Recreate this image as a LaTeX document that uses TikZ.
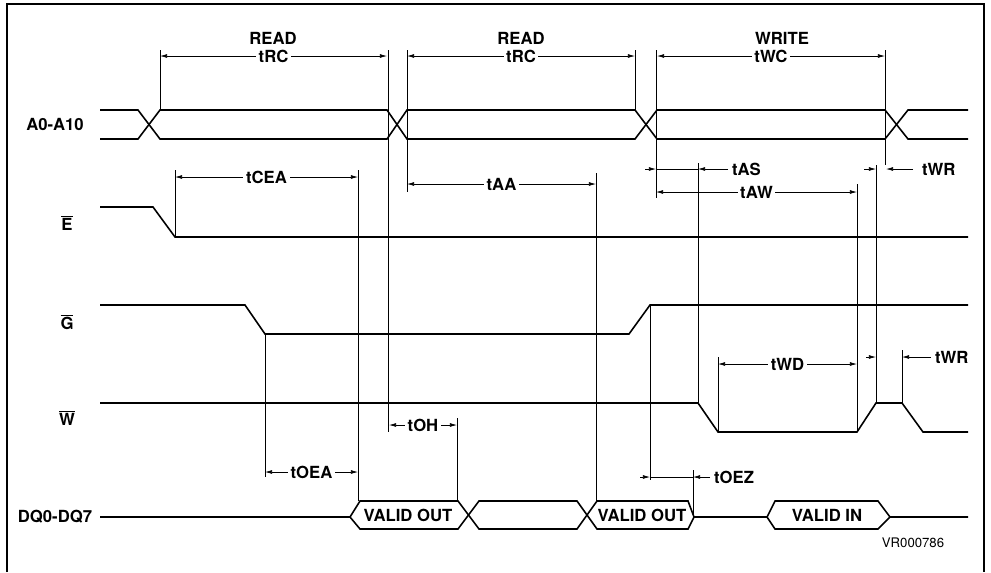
\documentclass[tikz,border=0pt]{standalone}
\usepackage{fontspec}
\setmainfont{TeX Gyre Heros}
\usepackage{tikz}
\usetikzlibrary{arrows.meta, positioning}

\tikzset{
    sig/.style={line width=0.9pt, line join=miter},
    ext/.style={line width=0.35pt},
    dim/.style={line width=0.4pt, {Latex[length=4pt,width=2.2pt]}-{Latex[length=4pt,width=2.2pt]}},
    dimtip/.style={line width=0.4pt, -{Latex[length=4pt,width=2.2pt]}},
    lbl/.style={font=\fontsize{9.5}{11}\selectfont\bfseries, inner sep=1pt},
    tlbl/.style={lbl, fill=white, inner sep=1.5pt}
}

\begin{document}
\begin{tikzpicture}[x=0.02cm, y=-0.02cm]
    \useasboundingbox (0,0) rectangle (991,572);

    % Frame (open at the bottom)
    \draw[line width=1pt] (7,572) -- (7,4) -- (984,4) -- (984,572);

    % Signal names
    \node[lbl] (nA) at (55,124) {A0-A10};
    \node[lbl] (nE) at (67,223) {$\overline{\mbox{E}}$};
    \node[lbl] (nG) at (67,322) {$\overline{\mbox{G}}$};
    \node[lbl] (nW) at (67,418) {$\overline{\mbox{W}}$};
    \node[lbl] (nDQ) at (55,517) {DQ0-DQ7};

    % Address bus
    \draw[sig] (100,110) -- (138,110) -- (160,139) -- (387,139) -- (407,110) -- (635,110)
        -- (657,139) -- (885,139) -- (908,110) -- (968,110);
    \draw[sig] (100,139) -- (138,139) -- (160,110) -- (387,110) -- (407,139) -- (635,139)
        -- (657,110) -- (885,110) -- (908,139) -- (968,139);

    % E, G, W
    \draw[sig] (100,207) -- (153,207) -- (175,237) -- (968,237);
    \draw[sig] (100,305) -- (245,305) -- (265,334) -- (629,334) -- (650,305) -- (968,305);
    \draw[sig] (100,403) -- (698,403) -- (718,432) -- (857,432) -- (876,403) -- (902,403)
        -- (923,432) -- (968,432);

    % Data bus
    \draw[sig] (100,517) -- (350,517) -- (360,501) -- (458,501) -- (479,529) -- (577,529)
        -- (597,501) -- (688,501) -- (694,517) -- (767,517) -- (775,501) -- (878,501)
        -- (890,517) -- (968,517);
    \draw[sig] (350,517) -- (360,529) -- (458,529) -- (479,501) -- (577,501) -- (597,529)
        -- (688,529) -- (694,517);
    \draw[sig] (767,517) -- (775,529) -- (878,529) -- (890,517);
    \node[lbl] (vo1) at (408,515) {VALID OUT};
    \node[lbl] (vo2) at (642,515) {VALID OUT};
    \node[lbl] (vin) at (827,515) {VALID IN};

    % Extension lines
    \foreach \x/\ya/\yb in {160/50/110, 388/50/432, 407/50/192, 635/50/110, 656/50/198,
            885/50/165, 175/170/237, 358/170/501, 596/173/501, 698/163/403, 876/165/403,
            857/184/432, 265/334/477, 457/418/501, 650/305/480, 693/470/517, 718/357/432,
            902/350/403} {
        \draw[ext] (\x,\ya) -- (\x,\yb);
    }

    % Cycle labels
    \node[lbl] (rd1) at (273,38) {READ};
    \node[lbl] (rd2) at (521,38) {READ};
    \node[lbl] (wr) at (782,38) {WRITE};

    % Timing dimensions
    \draw[dim] (160,56) -- node[tlbl] (trc1) {tRC} (387,56);
    \draw[dim] (407,56) -- node[tlbl] (trc2) {tRC} (635,56);
    \draw[dim] (657,56) -- node[tlbl] (twc) {tWC} (885,56);
    \draw[dim] (175,177) -- node[tlbl] (tcea) {tCEA} (358,177);
    \draw[dim] (407,184) -- node[tlbl] (taa) {tAA} (596,184);
    \draw[dim] (656,192) -- node[tlbl] (taw) {tAW} (857,192);
    \draw[dim] (718,364) -- node[tlbl] (twd) {tWD} (857,364);
    \draw[dim] (389,425) -- node[tlbl] (toh) {tOH} (457,425);
    \draw[dim] (265,472) -- node[tlbl] (toea) {tOEA} (358,472);

    % tAS
    \draw[dimtip] (645,169) -- (656,169);
    \draw[ext] (656,169) -- (698,169);
    \draw[dimtip] (728,169) -- (698,169);
    \node[lbl, anchor=west] (tas) at (730,169) {tAS};

    % tWR (address)
    \draw[dimtip] (864,169) -- (876,169);
    \draw[dimtip] (913,169) -- (886,169);
    \node[lbl, anchor=west] (twr1) at (920,169) {tWR};

    % tWR (write)
    \draw[dimtip] (866,357) -- (876,357);
    \draw[dimtip] (931,357) -- (902,357);
    \node[lbl, anchor=west] (twr2) at (933,357) {tWR};

    % tOEZ
    \draw[dimtip] (640,477) -- (650,477);
    \draw[ext] (650,477) -- (693,477);
    \draw[dimtip] (710,477) -- (693,477);
    \node[lbl, anchor=west] (toez) at (712,477) {tOEZ};

    % Drawing number
    \node[font=\fontsize{7.5}{9}\selectfont, inner sep=0pt] (ref) at (913,543) {VR000786};
\end{tikzpicture}
\end{document}
